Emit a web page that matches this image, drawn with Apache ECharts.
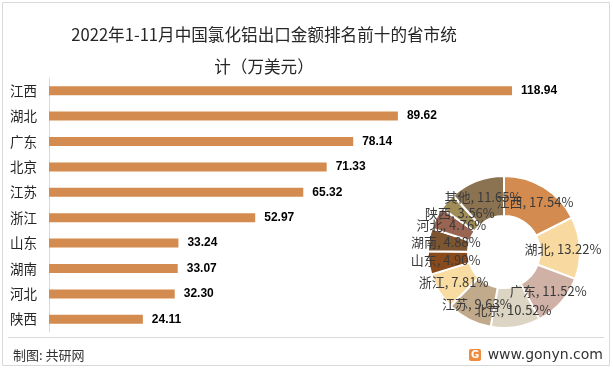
<!DOCTYPE html>
<html>
<head>
<meta charset="utf-8">
<script src="https://cdn.jsdelivr.net/npm/echarts@6/dist/echarts.min.js"></script>
<style>
html,body{margin:0;padding:0;background:#fff;}
#main{width:613px;height:370px;}
</style>
</head>
<body>
<div id="main"></div>
<script>
// ---- data ----
var categories = ['江西', '湖北', '广东', '北京', '江苏', '浙江', '山东', '湖南', '河北', '陕西'];
var exportValues = [118.94, 89.62, 78.14, 71.33, 65.32, 52.97, 33.24, 33.07, 32.30, 24.11];
var pieNames = ['江西', '湖北', '广东', '北京', '江苏', '浙江', '山东', '湖南', '河北', '陕西', '其他'];
var pieShares = [17.54, 13.22, 11.52, 10.52, 9.63, 7.81, 4.90, 4.88, 4.76, 3.56, 11.65];
var pieColors = ['#D38B4F', '#F8D9A0', '#D0B1A6', '#DDD5C3', '#C1AA8B', '#F9DCA2', '#8A4B1C', '#7D5531', '#9A6452', '#A08C57', '#8B7352'];

var chart = echarts.init(document.getElementById('main'), null, {renderer: 'canvas'});
var font = '"Noto Sans CJK SC", "Noto Sans", sans-serif';

var option = {
  backgroundColor: '#ffffff',
  animation: false,
  title: {
    text: '2022年1-11月中国氯化铝出口金额排名前十的省市统\n计（万美元）',
    left: 259,
    top: 14,
    textAlign: 'center',
    textStyle: {fontSize: 16.6, fontWeight: 'normal', color: '#262626', lineHeight: 32, fontFamily: font}
  },
  grid: {left: 49, right: 19, top: 78, bottom: 38, containLabel: false},
  xAxis: {
    type: 'value', min: 0, max: 140, show: false
  },
  yAxis: {
    type: 'category',
    data: categories,
    inverse: true,
    axisLine: {show: true, lineStyle: {color: '#d9d9d9', width: 1}},
    axisTick: {show: false},
    axisLabel: {color: '#262626', fontSize: 13.5, margin: 12, fontFamily: font}
  },
  series: [
    {
      type: 'bar',
      data: exportValues,
      barWidth: 9,
      itemStyle: {color: '#D38B4F'},
      label: {
        show: true, position: 'right', distance: 9,
        color: '#000', fontSize: 12, fontWeight: 'bold', fontFamily: '"Liberation Sans", Arial, sans-serif',
        formatter: function (p) { return p.value.toFixed(2); }
      },
      z: 2
    },
    {
      type: 'pie',
      center: [504, 252],
      radius: [36, 76],
      startAngle: 90,
      clockwise: true,
      avoidLabelOverlap: false,
      data: pieNames.map(function (n, i) { return {name: n, value: pieShares[i], itemStyle: {color: pieColors[i]}}; }),
      itemStyle: {borderColor: '#fff', borderWidth: 2},
      label: {
        show: true, position: 'inside', color: '#3a3a3a', fontSize: 13, fontFamily: font,
        formatter: function (p) { return p.name + ', ' + p.value.toFixed(2) + '%'; }
      },
      labelLayout: {hideOverlap: false},
      labelLine: {show: false},
      emphasis: {disabled: true},
      z: 3
    }
  ],
  graphic: [
    {type: 'rect', shape: {x: 2.5, y: 2.5, width: 607, height: 363}, style: {fill: null, stroke: '#d9d9d9', lineWidth: 1}, z: -1},
    {type: 'line', shape: {x1: 8, y1: 337.5, x2: 604, y2: 337.5}, style: {stroke: '#d9d9d9', lineWidth: 1}},
    {type: 'text', style: {x: 13, y: 355, text: '制图: 共研网', font: '13px ' + font, fill: '#333', textVerticalAlign: 'middle'}},
    {type: 'rect', shape: {x: 469, y: 349, width: 12, height: 12, r: 2}, style: {fill: '#F08A3C'}},
    {type: 'text', style: {x: 475, y: 355.5, text: 'G', font: 'bold 10px "DejaVu Sans", sans-serif', fill: '#fff', textAlign: 'center', textVerticalAlign: 'middle'}},
    {type: 'text', style: {x: 603, y: 355, text: 'www.gonyn.com', font: '14px "DejaVu Sans", sans-serif', fill: '#333', textAlign: 'right', textVerticalAlign: 'middle'}}
  ]
};
chart.setOption(option);
</script>
</body>
</html>
